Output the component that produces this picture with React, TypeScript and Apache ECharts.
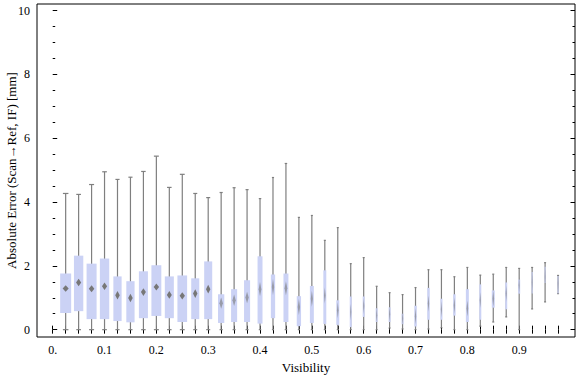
import React, { useEffect, useRef } from "react";
import * as echarts from "echarts";

// Visibility categories (box centres)
const visibility = [
  0.025, 0.05, 0.075, 0.1, 0.125, 0.15, 0.175, 0.2, 0.225, 0.25, 0.275, 0.3, 0.325,
  0.35, 0.375, 0.4, 0.425, 0.45, 0.475, 0.5, 0.525, 0.55, 0.575, 0.6, 0.625, 0.65,
  0.675, 0.7, 0.725, 0.75, 0.775, 0.8, 0.825, 0.85, 0.875, 0.9, 0.925, 0.95, 0.975,
];
const whiskerHigh = [
  4.27, 4.24, 4.55, 4.95, 4.71, 4.78, 4.96, 5.44, 4.46, 4.87, 4.27, 4.14, 4.3,
  4.45, 4.39, 4.11, 4.77, 5.21, 3.52, 3.58, 2.8, 3.2, 2.07, 2.26, 1.36, 1.16,
  1.1, 1.32, 1.88, 1.88, 1.66, 1.95, 1.71, 1.74, 1.95, 1.92, 1.95, 2.1, 1.7,
];
const q3 = [
  1.76, 2.32, 2.07, 2.23, 1.67, 1.52, 1.83, 2.02, 1.67, 1.7, 1.61, 2.14, 1.11,
  1.27, 1.55, 2.3, 1.73, 1.76, 1.05, 1.37, 1.86, 0.92, 1.04, 1.04, 0.67, 0.7,
  0.5, 0.75, 1.31, 0.97, 1.11, 1.27, 1.42, 1.23, 1.48, 1.57, 1.81, 1.97, 1.68,
];
const median = [
  1.29, 1.48, 1.28, 1.36, 1.08, 0.99, 1.18, 1.34, 1.09, 1.06, 1.13, 1.27, 0.83,
  0.92, 1.01, 1.27, 1.34, 1.3, 0.71, 0.97, 1.07, 0.61, 0.55, 0.74, 0.45, 0.48,
  0.35, 0.42, 0.82, 0.64, 0.76, 0.66, 0.92, 0.97, 1.13, 1.39, 1.49, 1.65, 1.44,
];
const q1 = [
  0.52, 0.58, 0.33, 0.33, 0.27, 0.23, 0.36, 0.43, 0.36, 0.24, 0.33, 0.33, 0.21,
  0.24, 0.24, 0.19, 0.36, 0.24, 0.11, 0.21, 0.18, 0.15, 0.08, 0.4, 0.24, 0.24,
  0.17, 0.1, 0.31, 0.31, 0.44, 0.24, 0.31, 0.69, 0.64, 1.13, 1.13, 1.46, 1.13,
];
const whiskerLow = [
  0, 0, 0, 0, 0, 0, 0, 0, 0, 0, 0, 0, 0,
  0, 0, 0, 0, 0, 0, 0, 0, 0, 0, 0, 0, 0.05,
  0.02, 0, 0.02, 0.06, 0, 0, 0.11, 0.24, 0.4, 0, 0.65, 0.87, 1.13,
];
// relative sample weight (drives box width)
const boxWeight = [
  1.0, 0.85, 0.91, 0.85, 0.75, 0.75, 0.82, 0.9, 0.82, 0.88, 0.73, 0.73, 0.57,
  0.55, 0.55, 0.45, 0.39, 0.45, 0.39, 0.36, 0.27, 0.27, 0.18, 0.18, 0.18, 0.18,
  0.18, 0.22, 0.22, 0.18, 0.22, 0.27, 0.18, 0.27, 0.18, 0.18, 0.1, 0.1, 0.1,
];

const xTicks = [0, ...visibility];
const xLabels = [0, 0.1, 0.2, 0.3, 0.4, 0.5, 0.6, 0.7, 0.8, 0.9];
const yMajor = [0, 2, 4, 6, 8, 10];
const yMinor = [0.5, 1, 1.5, 2.5, 3, 3.5, 4.5, 5, 5.5, 6.5, 7, 7.5, 8.5, 9, 9.5];

const FONT = "Liberation Serif";

export default function App() {
  const ref = useRef<HTMLDivElement>(null);
  useEffect(() => {
    if (!ref.current) return;
    const chart = echarts.init(ref.current, undefined, { renderer: "svg" });
    const data = visibility.map((v, i) => [
      v, whiskerLow[i], q1[i], median[i], q3[i], whiskerHigh[i], boxWeight[i],
    ]);
    const XMIN = -0.0303, XMAX = 1.0077, YMIN = -0.23, YMAX = 10.21;
    const tickStyle = { color: "#000", width: 1 };
    const baseX = {
      type: "value", min: XMIN, max: XMAX,
      axisLine: { show: false }, splitLine: { show: false },
    };
    const baseY = {
      type: "value", min: YMIN, max: YMAX,
      axisLine: { show: false }, splitLine: { show: false },
    };
    chart.setOption({
      animation: false,
      grid: {
        show: true, borderColor: "#000", borderWidth: 1,
        left: 37, right: 1, top: 4, bottom: 40,
        containLabel: false, outerBoundsMode: "none",
      },
      xAxis: [
        {
          ...baseX, position: "bottom",
          axisTick: { show: true, inside: true, length: 4, customValues: xTicks, lineStyle: tickStyle },
          axisLabel: {
            customValues: xLabels, margin: 7, fontFamily: FONT, fontSize: 12, color: "#000",
            formatter: (v: number) => (v === 0 ? "0." : v.toFixed(1)),
          },
          name: "Visibility", nameLocation: "middle", nameGap: 24,
          nameTextStyle: { fontFamily: FONT, fontSize: 13, color: "#000" },
        },
        {
          ...baseX, position: "top",
          axisTick: { show: true, inside: true, length: 4, customValues: xTicks, lineStyle: tickStyle },
          axisLabel: { show: false },
        },
      ],
      yAxis: [
        {
          ...baseY, position: "left",
          axisTick: { show: true, inside: true, length: 4.5, customValues: yMajor, lineStyle: tickStyle },
          axisLabel: { customValues: yMajor, margin: 7, fontFamily: FONT, fontSize: 12, color: "#000" },
          name: "Absolute Error (Scan\u2192Ref, IF) [mm]", nameLocation: "middle", nameGap: 19,
          nameMoveOverlap: false,
          nameTextStyle: { fontFamily: FONT, fontSize: 13, color: "#000" },
        },
        {
          ...baseY, position: "left",
          axisTick: { show: true, inside: true, length: 2.5, customValues: yMinor, lineStyle: tickStyle },
          axisLabel: { show: false },
        },
        {
          ...baseY, position: "right",
          axisTick: { show: true, inside: true, length: 4.5, customValues: yMajor, lineStyle: tickStyle },
          axisLabel: { show: false },
        },
        {
          ...baseY, position: "right",
          axisTick: { show: true, inside: true, length: 2.5, customValues: yMinor, lineStyle: tickStyle },
          axisLabel: { show: false },
        },
      ],
      series: [
        {
          type: "custom",
          xAxisIndex: 0,
          yAxisIndex: 0,
          data,
          encode: { x: 0, y: [1, 2, 3, 4, 5] },
          renderItem: (params: any, api: any) => {
            const x = api.value(0);
            const pLo = api.coord([x, api.value(1)]);
            const pQ1 = api.coord([x, api.value(2)]);
            const pMed = api.coord([x, api.value(3)]);
            const pQ3 = api.coord([x, api.value(4)]);
            const pHi = api.coord([x, api.value(5)]);
            const unit = api.size([0.025, 0])[0];
            const w = unit * 0.85 * api.value(6);
            const cx = pLo[0];
            const cap = Math.max(2, w * 0.5);
            const dw = w * 0.55;
            const dh = Math.min(16, Math.max(6, 70 / w));
            const lineStyle = { stroke: "#7f7f7f", lineWidth: 1.2 };
            return {
              type: "group",
              children: [
                { type: "line", shape: { x1: cx, y1: pLo[1], x2: cx, y2: pHi[1] }, style: lineStyle },
                { type: "line", shape: { x1: cx - cap / 2, y1: pLo[1], x2: cx + cap / 2, y2: pLo[1] }, style: lineStyle },
                { type: "line", shape: { x1: cx - cap / 2, y1: pHi[1], x2: cx + cap / 2, y2: pHi[1] }, style: lineStyle },
                {
                  type: "rect",
                  shape: { x: cx - w / 2, y: pQ3[1], width: w, height: pQ1[1] - pQ3[1] },
                  style: { fill: "#cbd2f5" },
                },
                {
                  type: "polygon",
                  shape: {
                    points: [
                      [cx, pMed[1] - dh / 2],
                      [cx + dw / 2, pMed[1]],
                      [cx, pMed[1] + dh / 2],
                      [cx - dw / 2, pMed[1]],
                    ],
                  },
                  style: { fill: "#777777", opacity: w < 7 ? 0.6 : 1 },
                },
              ],
            };
          },
        },
      ],
    });
    return () => chart.dispose();
  }, []);
  return (
    <div
      ref={ref}
      style={{ position: "absolute", left: 0, top: 0, width: 576, height: 377 }}
    />
  );
}
